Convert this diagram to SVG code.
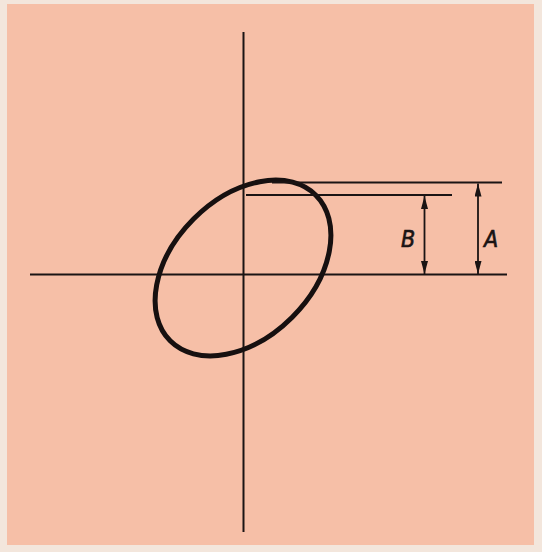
<svg xmlns="http://www.w3.org/2000/svg" width="542" height="552" viewBox="0 0 542 552">
<defs>
<style>
.ax{stroke:#1a1414;stroke-width:2;fill:none}
.dim{stroke:#1a1414;stroke-width:1.8;fill:none}
.lbl{font-family:"DejaVu Sans Condensed","Liberation Sans",sans-serif;font-style:italic;font-size:23px;fill:#1a1414;stroke:#1a1414;stroke-width:0.6}
</style>
<marker id="ah" viewBox="0 0 13 7" refX="13" refY="3.5" markerWidth="13" markerHeight="7" markerUnits="userSpaceOnUse" orient="auto-start-reverse">
<path d="M0,0 L13,3.5 L0,7 Z" fill="#1a1414"/>
</marker>
</defs>
<rect x="0" y="0" width="542" height="552" fill="#f3e6dc"/>
<rect x="7" y="4" width="527" height="541" fill="#f6bfa7"/>
<g id="axes">
<line class="ax" x1="30" y1="274.5" x2="507" y2="274.5"/>
<line class="ax" x1="243.5" y1="32" x2="243.5" y2="532"/>
</g>
<g id="ellipse">
<ellipse cx="243" cy="268" rx="103" ry="69.6" transform="rotate(-45 243 268)" fill="none" stroke="#161010" stroke-width="5"/>
</g>
<g id="connectors">
<line class="dim" x1="272" y1="182.5" x2="502" y2="182.5"/>
<line class="dim" x1="246" y1="195" x2="452" y2="195"/>
<line class="dim" x1="424.5" y1="196" x2="424.5" y2="274" marker-start="url(#ah)" marker-end="url(#ah)"/>
<line class="dim" x1="478" y1="183.5" x2="478" y2="274" marker-start="url(#ah)" marker-end="url(#ah)"/>
</g>
<g id="label-B"><text class="lbl" x="401" y="247">B</text></g>
<g id="label-A"><text class="lbl" x="484" y="247">A</text></g>
</svg>
